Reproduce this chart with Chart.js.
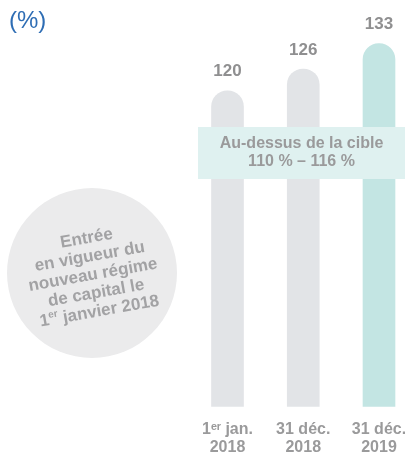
<!DOCTYPE html>
<html><head><meta charset="utf-8">
<script src="https://cdn.jsdelivr.net/npm/chart.js@4"></script>
<style>html,body{margin:0;padding:0;background:#fff}#wrap{width:405px;height:455px;position:relative}</style>
</head><body><div id="wrap"><canvas id="c"></canvas></div>
<script>
const categories = [["1ᵉʳ jan.", "2018"], ["31 déc.", "2018"], ["31 déc.", "2019"]];
const ratioValues = [120, 126, 133];
const barColors = ["#e2e4e7", "#e2e4e7", "#c3e5e3"];
const unitLabel = "(%)";
const targetLines = ["Au-dessus de la cible", "110 % – 116 %"];
const noteLines = ["Entrée", "en vigueur du", "nouveau régime", "de capital le", "1er janvier 2018"];

const FONT = '"Liberation Sans", Arial, Helvetica, sans-serif';
Chart.defaults.font.family = FONT;

const decor = {
  id: 'decor',
  beforeDatasetsDraw(chart) {
    const ctx = chart.ctx;
    ctx.save();
    ctx.fillStyle = '#2e6db4';
    ctx.font = '24px ' + FONT;
    ctx.textAlign = 'left';
    ctx.textBaseline = 'middle';
    ctx.fillText(unitLabel, 9, 21);
    ctx.fillStyle = '#ebebec';
    ctx.beginPath();
    ctx.arc(92, 273, 85, 0, Math.PI * 2);
    ctx.fill();
    ctx.translate(93, 275);
    ctx.rotate(-10 * Math.PI / 180);
    ctx.fillStyle = '#a2a2a4';
    const fs = 17, lh = 18.5;
    noteLines.forEach((line, i) => {
      const y = (i - (noteLines.length - 1) / 2) * lh;
      ctx.textBaseline = 'middle';
      const m = line.match(/^(1)(er)( .*)$/);
      if (m) {
        ctx.font = 'bold ' + fs + 'px ' + FONT;
        const w1 = ctx.measureText(m[1]).width;
        const w3 = ctx.measureText(m[3]).width;
        ctx.font = 'bold ' + Math.round(fs * 0.6) + 'px ' + FONT;
        const w2 = ctx.measureText(m[2]).width;
        let x = -(w1 + w2 + w3) / 2;
        ctx.textAlign = 'left';
        ctx.font = 'bold ' + fs + 'px ' + FONT;
        ctx.fillText(m[1], x, y);
        x += w1;
        ctx.font = 'bold ' + Math.round(fs * 0.6) + 'px ' + FONT;
        ctx.fillText(m[2], x, y - 5);
        x += w2;
        ctx.font = 'bold ' + fs + 'px ' + FONT;
        ctx.fillText(m[3], x, y);
      } else {
        ctx.textAlign = 'center';
        ctx.font = 'bold ' + fs + 'px ' + FONT;
        ctx.fillText(line, 0, y);
      }
    });
    ctx.restore();
  },
  afterDatasetsDraw(chart) {
    const ctx = chart.ctx;
    ctx.save();
    ctx.fillStyle = '#dff1f0';
    ctx.fillRect(198, 127, 207, 52);
    ctx.fillStyle = '#9a9a9b';
    ctx.font = 'bold 16px ' + FONT;
    ctx.textAlign = 'center';
    ctx.textBaseline = 'middle';
    ctx.fillText(targetLines[0], 301.5, 144);
    ctx.fillText(targetLines[1], 301.5, 161.5);
    const meta = chart.getDatasetMeta(0);
    ctx.fillStyle = '#8f8f90';
    ctx.font = 'bold 17px ' + FONT;
    meta.data.forEach((bar, i) => {
      ctx.fillText(String(ratioValues[i]), bar.x, bar.y - 19);
    });
    ctx.restore();
  }
};

new Chart(document.getElementById('c'), {
  type: 'bar',
  data: {
    labels: categories,
    datasets: [{
      data: ratioValues,
      backgroundColor: barColors,
      barThickness: 32,
      borderRadius: { topLeft: 16, topRight: 16, bottomLeft: 0, bottomRight: 0 },
      borderSkipped: 'bottom',
      clip: { left: false, right: false, top: false, bottom: 0 }
    }]
  },
  options: {
    responsive: true,
    maintainAspectRatio: false,
    animation: false,
    layout: { padding: { left: 227.5, right: 26, top: 0, bottom: 0 } },
    plugins: { legend: { display: false }, tooltip: { enabled: false }, title: { display: false } },
    scales: {
      x: {
        offset: false,
        grid: { display: false, drawTicks: false },
        border: { display: false },
        ticks: { color: '#9a9a9b', font: { size: 16, weight: 'bold', lineHeight: 1.12 }, padding: 14, maxRotation: 0, autoSkip: false },
        afterFit(scale) { scale.paddingLeft = 0; scale.paddingRight = 0; scale.height = 48.3; }
      },
      y: { display: false, min: 33, max: 145 }
    }
  },
  plugins: [decor]
});
</script>
</body></html>
